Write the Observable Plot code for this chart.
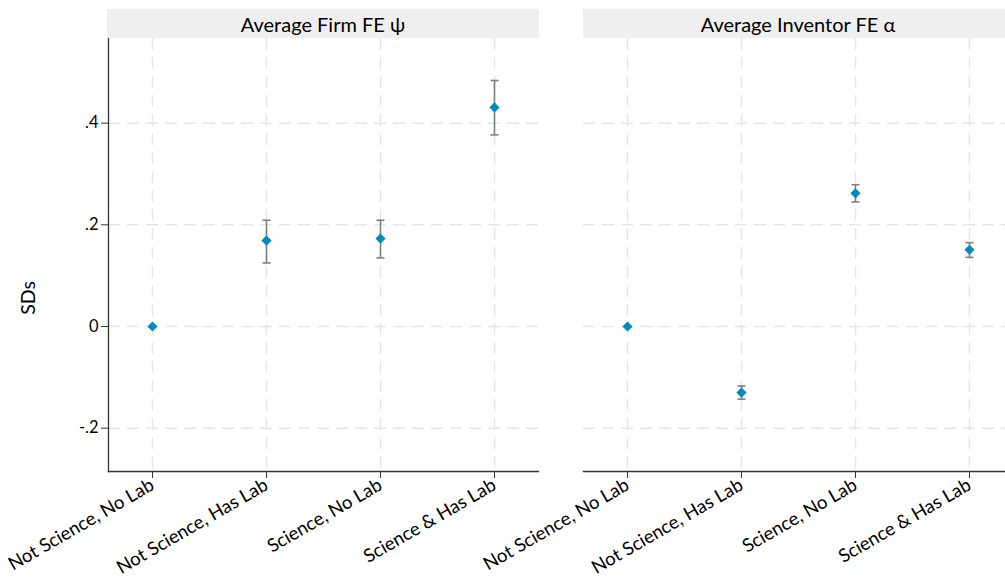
<!DOCTYPE html>
<html>
<head>
<meta charset="utf-8">
<script src="https://cdn.jsdelivr.net/npm/d3@7"></script>
<script src="https://cdn.jsdelivr.net/npm/@observablehq/plot@0.6"></script>
<style>
  html, body { margin: 0; padding: 0; background: #fff; }
  #chart { position: relative; width: 1005px; height: 577px; overflow: hidden; font-family: Lato, sans-serif; color: #000; }
  .strip { position: absolute; top: 9px; height: 29px; line-height: 30px; background: #efefef; font-size: 20px; text-align: center; white-space: nowrap; }
  .ylab { position: absolute; left: 27px; top: 298px; transform: translate(-50%, -50%) rotate(-90deg); font-size: 19.5px; white-space: nowrap; }
</style>
</head>
<body>
<div id="chart"></div>
<script>
// Group categories along the x axis
const categories = ["Not Science, No Lab", "Not Science, Has Lab", "Science, No Lab", "Science & Has Lab"];
// Panel titles
const panelTitles = ["Average Firm FE \u03c8", "Average Inventor FE \u03b1"];
// Firm fixed effect: point estimate and 95% interval (reference group has none)
const firmEst = [0, 0.169, 0.173, 0.431];
const firmLo  = [null, 0.125, 0.135, 0.377];
const firmHi  = [null, 0.209, 0.209, 0.484];
// Inventor fixed effect: point estimate and 95% interval
const invEst = [0, -0.130, 0.262, 0.151];
const invLo  = [null, -0.143, 0.245, 0.136];
const invHi  = [null, -0.117, 0.279, 0.165];
// Y axis ticks and their printed labels
const yTicks = [-0.2, 0, 0.2, 0.4];
const yTickLabels = ["-.2", "0", ".2", ".4"];
const yTitle = "SDs";
const yDomain = [-0.2853, 0.5666];

const chart = document.getElementById("chart");

// Horizontal cap for the ends of the interval bars
const capSymbol = { draw(ctx) { ctx.moveTo(-4, 0); ctx.lineTo(4, 0); } };

const gridStyle = { stroke: "#e6e6e6", strokeOpacity: 1, strokeWidth: 1.5, strokeDasharray: "12,7" };

function panel(est, lo, hi, left, withY) {
  const rows = categories.map((c, i) => ({ cat: c, est: est[i], lo: lo[i], hi: hi[i] }));
  const hasCI = d => d.lo != null && d.hi != null;
  const W = 1013, innerW = 430;
  return Plot.plot({
    width: W,
    height: 539,
    marginTop: 0,
    marginBottom: 106,
    marginLeft: left,
    marginRight: W - left - innerW,
    style: "position:absolute;left:0;top:38px;max-width:none;background:transparent;overflow:visible;font-family:Lato,sans-serif;color:#000;",
    x: { type: "point", domain: categories, padding: 0.378 },
    y: { domain: yDomain, axis: null },
    marks: [
      Plot.gridY(yTicks, gridStyle),
      Plot.gridX(categories, gridStyle),
      Plot.frame({ anchor: "bottom", stroke: "#333", strokeWidth: 1.3 }),
      withY ? Plot.frame({ anchor: "left", stroke: "#333", strokeWidth: 1.3 }) : null,
      withY ? Plot.axisY(yTicks, {
        tickSize: 7, tickPadding: 3, fontSize: 16.5, stroke: "#333",
        tickFormat: d => yTickLabels[yTicks.indexOf(d)], label: null
      }) : null,
      Plot.axisX({ tickSize: 7, tickPadding: 5, tickRotate: -30, fontSize: 18.5, stroke: "#333", label: null }),
      Plot.ruleX(rows, { filter: hasCI, x: "cat", y1: "lo", y2: "hi", stroke: "#7f7f7f", strokeWidth: 1.6 }),
      Plot.dot(rows, { filter: hasCI, x: "cat", y: "lo", symbol: capSymbol, stroke: "#7f7f7f", strokeWidth: 1.6, r: 4 }),
      Plot.dot(rows, { filter: hasCI, x: "cat", y: "hi", symbol: capSymbol, stroke: "#7f7f7f", strokeWidth: 1.6, r: 4 }),
      Plot.dot(rows, { x: "cat", y: "est", symbol: "diamond2", fill: "#008bbc", r: 4.6 })
    ]
  });
}

chart.append(panel(firmEst, firmLo, firmHi, 108, true));
chart.append(panel(invEst, invLo, invHi, 583, false));

// Panel strips
[[107, 432], [583, 430]].forEach(([x, w], i) => {
  const s = document.createElement("div");
  s.className = "strip";
  s.style.left = x + "px";
  s.style.width = w + "px";
  s.textContent = panelTitles[i];
  chart.append(s);
});

// Y axis title
const yl = document.createElement("div");
yl.className = "ylab";
yl.textContent = yTitle;
chart.append(yl);
</script>
</body>
</html>
